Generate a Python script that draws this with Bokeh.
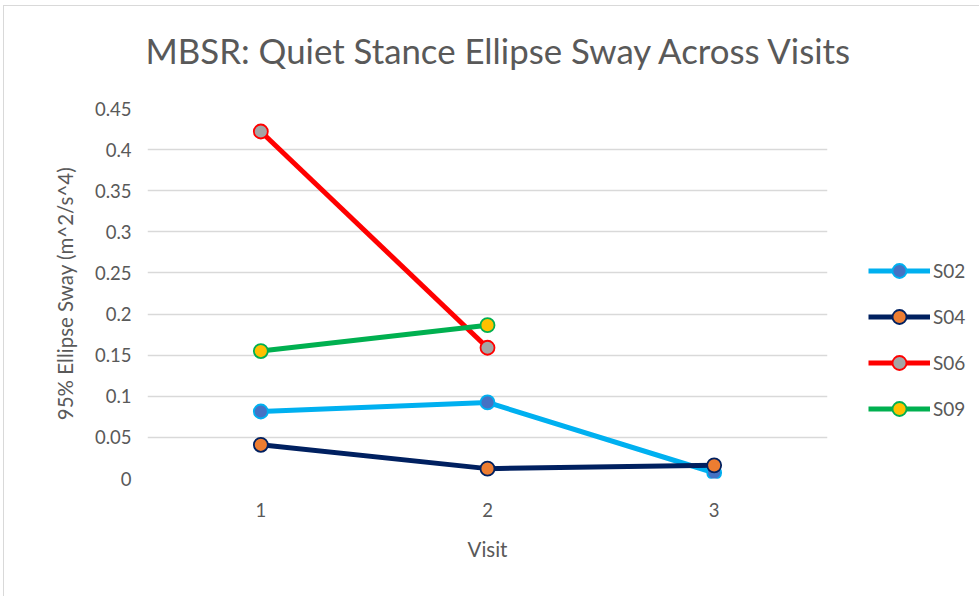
from bokeh.plotting import figure
from bokeh.models import ColumnDataSource, Legend, LegendItem, FixedTicker, Title
from bokeh.embed import file_html
from bokeh.resources import INLINE

# ---- data ----
visits = [1, 2, 3]
series_names = ["S02", "S04", "S06", "S09"]
s02 = [0.0815, 0.0925, 0.0070]
s04 = [0.0410, 0.0120, 0.0160]
s06 = [0.4220, 0.1590]
s09 = [0.1550, 0.1865]
y_ticks = [0, 0.05, 0.1, 0.15, 0.2, 0.25, 0.3, 0.35, 0.4, 0.45]
y_tick_labels = ["0", "0.05", "0.1", "0.15", "0.2", "0.25", "0.3", "0.35", "0.4", "0.45"]

title_text = "MBSR: Quiet Stance Ellipse Sway Across Visits"
x_label = "Visit"
y_label = "95% Ellipse Sway (m^2/s^4)"

FONT = "Lato"
TXT = "#595959"

styles = {
    "S02": dict(line="#00B0F0", fill="#4472C4", edge="#00B0F0"),
    "S04": dict(line="#002060", fill="#ED7D31", edge="#002060"),
    "S06": dict(line="#FF0000", fill="#A5A5A5", edge="#FF0000"),
    "S09": dict(line="#00B050", fill="#FFC000", edge="#00B050"),
}
values = {"S02": s02, "S04": s04, "S06": s06, "S09": s09}

p = figure(width=971, height=590, output_backend="svg", toolbar_location=None,
           x_range=(0.5, 3.5), y_range=(0, 0.45),
           min_border_left=143, min_border_top=102, min_border_bottom=118)
p.frame_width = 680
p.frame_height = 370
p.outline_line_color = None
p.background_fill_color = "white"
p.border_fill_color = "white"
p.styles = {"border-left": "1px solid #d9d9d9", "border-top": "1px solid #d9d9d9",
            "margin-left": "3px", "margin-top": "5px"}

p.title.text = title_text
p.title.align = "left"
p.title.text_font = FONT
p.title.text_font_size = "34.8px"
p.title.text_font_style = "normal"
p.title.text_color = TXT
p.title.standoff = 0
p.title.offset = -2

# spacer between title and frame (sits next to the frame)
spacer = Title(text=" ", text_font_size="1px", standoff=35)
p.add_layout(spacer, "above")

# axes
p.xaxis.ticker = FixedTicker(ticks=visits)
p.yaxis.ticker = FixedTicker(ticks=y_ticks)
p.yaxis.major_label_overrides = {t: l for t, l in zip(y_ticks, y_tick_labels)}
for ax in (p.xaxis[0], p.yaxis[0]):
    ax.axis_line_color = None
    ax.major_tick_line_color = None
    ax.minor_tick_line_color = None
    ax.major_label_text_font = FONT
    ax.major_label_text_font_size = "18.5px"
    ax.major_label_text_color = TXT
    ax.axis_label_text_font = FONT
    ax.axis_label_text_font_size = "20.5px"
    ax.axis_label_text_font_style = "normal"
    ax.axis_label_text_color = TXT
p.xaxis.axis_label = x_label
p.yaxis.axis_label = y_label
p.xaxis.major_label_standoff = 18
p.xaxis.axis_label_standoff = 17
p.yaxis.major_label_standoff = 10
p.yaxis.axis_label_standoff = 15

p.xgrid.grid_line_color = None
p.ygrid.grid_line_color = "#D9D9D9"
p.ygrid.grid_line_width = 1.5

items = []
for name in series_names:
    v = values[name]
    src = ColumnDataSource(dict(x=visits[:len(v)], y=v))
    st = styles[name]
    r1 = p.line("x", "y", source=src, line_color=st["line"], line_width=5)
    r2 = p.scatter("x", "y", source=src, size=14, marker="circle",
                   fill_color=st["fill"], line_color=st["edge"], line_width=1.8)
    items.append(LegendItem(label=name, renderers=[r1, r2]))

legend = Legend(items=items, location=(41, 52))
legend.border_line_color = None
legend.background_fill_alpha = 0
legend.glyph_width = 62
legend.glyph_height = 35
legend.label_standoff = 3
legend.spacing = 11
legend.padding = 0
legend.margin = 0
legend.label_text_font = FONT
legend.label_text_font_size = "19px"
legend.label_text_color = TXT
p.add_layout(legend, "right")

open("out.html", "w").write(file_html(p, INLINE))
